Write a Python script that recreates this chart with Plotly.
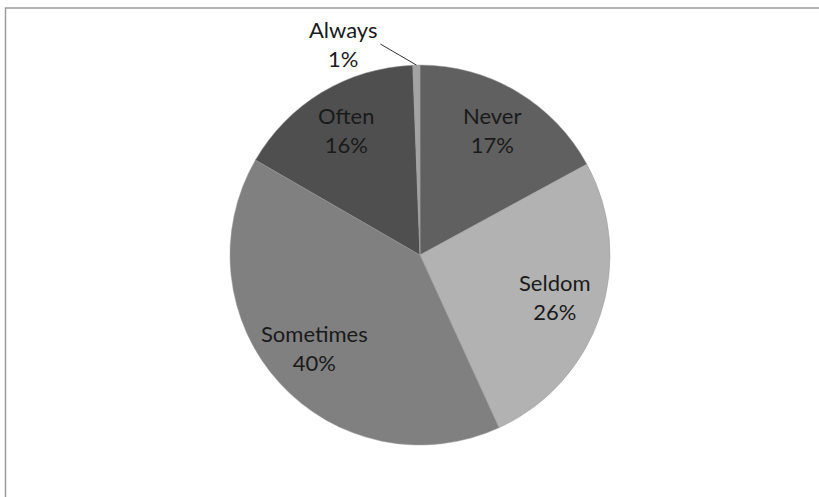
import math
import plotly.graph_objects as go

categories = ["Never", "Seldom", "Sometimes", "Often", "Always"]
values = [17, 26, 40, 16, 0.6]
colors = ["#606060", "#b2b2b2", "#808080", "#4f4f4f", "#a3a3a3"]

W, H = 819, 497
cx, cy, R = 420, 255, 190
FONT = dict(family="Lato", size=22, color="#1a1a1a")

fig = go.Figure(go.Pie(
    labels=categories,
    values=values,
    sort=False,
    direction="clockwise",
    rotation=0,
    marker=dict(colors=colors, line=dict(color="#9a9a9a", width=0.5)),
    textinfo="none",
    showlegend=False,
    hoverinfo="label+percent",
    domain=dict(x=[(cx - R) / W, (cx + R) / W], y=[(H - cy - R) / H, (H - cy + R) / H]),
))

# labels placed from the data (mid-angle of each slice)
total = sum(values)
annotations = []
cum = 0
for lab, v in zip(categories, values):
    mid = (cum + v / 2) / total * 2 * math.pi
    cum += v
    pct = f"{max(1, round(100 * v / total))}%"
    if v / total > 0.05:
        r = 0.75 * R
        px = cx + r * math.sin(mid)
        py = cy - r * math.cos(mid) - 3
        annotations.append(dict(x=px / W, y=1 - py / H, xref="paper", yref="paper",
                                text=f"{lab}<br>{pct}", showarrow=False, font=FONT,
                                xanchor="center", yanchor="middle"))
    else:
        ex = cx + R * math.sin(mid)
        ey = cy - R * math.cos(mid)
        annotations.append(dict(x=ex / W, y=1 - ey / H, xref="paper", yref="paper",
                                text=f"{lab}<br>{pct}", showarrow=True, arrowhead=0,
                                arrowwidth=1, arrowcolor="#333333",
                                ax=-36, ay=-21, font=FONT,
                                xanchor="right", yanchor="middle"))

fig.update_layout(
    width=W, height=H,
    margin=dict(l=0, r=0, t=0, b=0),
    paper_bgcolor="white",
    annotations=annotations,
    shapes=[dict(type="rect", xref="paper", yref="paper",
                 x0=5.5 / W, x1=1.02, y0=-0.02, y1=1 - 8 / H,
                 line=dict(color="#9a9a9a", width=1.5), fillcolor="rgba(0,0,0,0)", layer="below")],
)

fig.write_html("out.html", config={"displayModeBar": False},
               post_script="document.body.style.margin='0';document.body.style.overflow='hidden';")
